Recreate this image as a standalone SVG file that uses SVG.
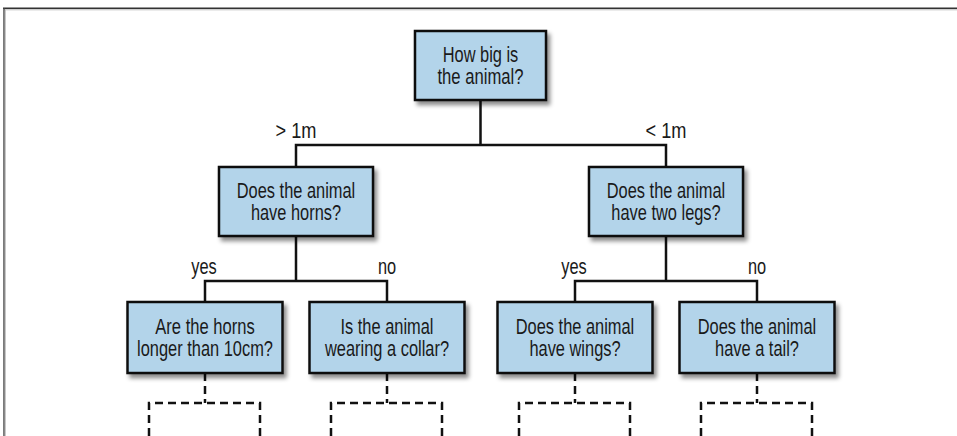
<svg xmlns="http://www.w3.org/2000/svg" width="957" height="436" viewBox="0 0 957 436">
<defs>
<filter id="sh" x="-10%" y="-10%" width="130%" height="140%">
<feDropShadow dx="3" dy="4" stdDeviation="2.2" flood-color="#000" flood-opacity="0.45"/>
</filter>
<style>
.box{fill:#b3d4ea;stroke:#111;stroke-width:2.5;filter:url(#sh)}
.t,.lbl{font-family:"Liberation Sans",Arial,sans-serif;font-size:21.5px;fill:#1a1a1a;text-anchor:middle}
.ln{fill:none;stroke:#111;stroke-width:2.5}
.dl{fill:none;stroke:#111;stroke-width:2.5;stroke-dasharray:8 5}
</style>
</defs>
<rect width="957" height="436" fill="#fff"/>
<g id="frame">
<line x1="4" y1="9.8" x2="957" y2="9.8" stroke="#bbb" stroke-width="1"/>
<line x1="3" y1="8.3" x2="957" y2="8.3" stroke="#333" stroke-width="1.6"/>
<line x1="4" y1="8" x2="4" y2="436" stroke="#444" stroke-width="1.4"/>
<line x1="5.3" y1="9.5" x2="5.3" y2="436" stroke="#bbb" stroke-width="1"/>
</g>
<g id="connectors">
<path class="ln" d="M480.5 100V145M296 167V145H666V167"/>
<path class="ln" d="M296 236V281M205 302V281H387V302"/>
<path class="ln" d="M666 236V281M575 302V281H757V302"/>
<path class="dl" d="M205 373V403M387 373V403M575 373V403M757 373V403"/>
<path class="dl" d="M149 436V403H260V436M331 436V403H442V436M519 436V403H630V436M701 436V403H812V436"/>
<text class="lbl" x="296" y="137.5" textLength="41" lengthAdjust="spacingAndGlyphs">&gt; 1m</text>
<text class="lbl" x="666" y="137.5" textLength="41" lengthAdjust="spacingAndGlyphs">&lt; 1m</text>
<text class="lbl" x="204" y="273.5" textLength="25.5" lengthAdjust="spacingAndGlyphs">yes</text>
<text class="lbl" x="387" y="273.5" textLength="18.2" lengthAdjust="spacingAndGlyphs">no</text>
<text class="lbl" x="574" y="273.5" textLength="25.5" lengthAdjust="spacingAndGlyphs">yes</text>
<text class="lbl" x="757" y="273.5" textLength="18.2" lengthAdjust="spacingAndGlyphs">no</text>
</g>
<g id="root">
<rect class="box" x="415" y="31" width="131" height="69"/>
<text class="t" x="480.5" y="61.5" textLength="75.6" lengthAdjust="spacingAndGlyphs">How big is</text>
<text class="t" x="480.5" y="83.5" textLength="86" lengthAdjust="spacingAndGlyphs">the animal?</text>
</g>
<g id="horns">
<rect class="box" x="219" y="167" width="154" height="69"/>
<text class="t" x="296" y="197.5" textLength="118.5" lengthAdjust="spacingAndGlyphs">Does the animal</text>
<text class="t" x="296" y="219.5" textLength="90.2" lengthAdjust="spacingAndGlyphs">have horns?</text>
</g>
<g id="legs">
<rect class="box" x="589" y="167" width="154" height="69"/>
<text class="t" x="666" y="197.5" textLength="118.5" lengthAdjust="spacingAndGlyphs">Does the animal</text>
<text class="t" x="666" y="219.5" textLength="109.4" lengthAdjust="spacingAndGlyphs">have two legs?</text>
</g>
<g id="hornlength">
<rect class="box" x="127.5" y="302" width="155" height="71"/>
<text class="t" x="205" y="333.5" textLength="99.4" lengthAdjust="spacingAndGlyphs">Are the horns</text>
<text class="t" x="205" y="355.5" textLength="136" lengthAdjust="spacingAndGlyphs">longer than 10cm?</text>
</g>
<g id="collar">
<rect class="box" x="309.5" y="302" width="155" height="71"/>
<text class="t" x="387" y="333.5" textLength="93" lengthAdjust="spacingAndGlyphs">Is the animal</text>
<text class="t" x="387" y="355.5" textLength="124" lengthAdjust="spacingAndGlyphs">wearing a collar?</text>
</g>
<g id="wings">
<rect class="box" x="497.5" y="302" width="155" height="71"/>
<text class="t" x="575" y="333.5" textLength="118.5" lengthAdjust="spacingAndGlyphs">Does the animal</text>
<text class="t" x="575" y="355.5" textLength="91.2" lengthAdjust="spacingAndGlyphs">have wings?</text>
</g>
<g id="tail">
<rect class="box" x="679.5" y="302" width="155" height="71"/>
<text class="t" x="757" y="333.5" textLength="118.5" lengthAdjust="spacingAndGlyphs">Does the animal</text>
<text class="t" x="757" y="355.5" textLength="83.9" lengthAdjust="spacingAndGlyphs">have a tail?</text>
</g>
</svg>
